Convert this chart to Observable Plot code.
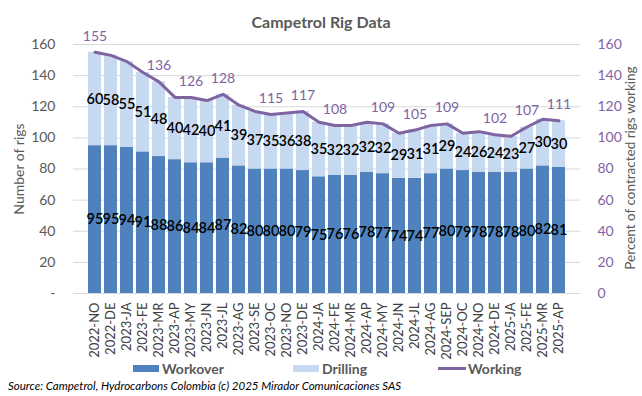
<!DOCTYPE html>
<html>
<head>
<meta charset="utf-8">
<script src="https://cdn.jsdelivr.net/npm/d3@7"></script>
<script src="https://cdn.jsdelivr.net/npm/@observablehq/plot@0.6"></script>
<style>
  body { margin: 0; background: #fff; font-family: Lato, "Open Sans", sans-serif; }
  #wrap { position: relative; width: 642px; height: 396px; overflow: hidden; background: #fff; }
  #chart { position: absolute; left: 0; top: 0; }
  .title { position: absolute; top: 12px; left: 0; width: 642px; text-align: center; font-weight: 700; font-size: 16px; color: #595959; }
  .rot { position: absolute; white-space: nowrap; transform: translate(-50%, -50%) rotate(-90deg); color: #595959; }
  .legend { position: absolute; top: 360px; left: 0; font-size: 14px; font-weight: 700; color: #595959; }
  .legend .item { position: absolute; white-space: nowrap; display: flex; align-items: center; top: 0; }
  .legend .sw { display: inline-block; width: 26px; height: 7px; margin-right: 3px; }
  .legend .ln { display: inline-block; width: 28px; height: 3px; margin-right: 2px; }
  .caption { position: absolute; top: 379px; left: 8px; font-size: 11.5px; font-style: italic; color: #000; white-space: nowrap; }
</style>
</head>
<body>
<div id="wrap">
  <div id="chart"></div>
  <div class="title">Campetrol Rig Data</div>
  <div class="rot" style="left:18px; top:169px; font-size:14px;">Number of rigs</div>
  <div class="rot" style="left:630px; top:168px; font-size:13.5px;">Percent of contracted rigs working</div>
  <div class="legend">
    <div class="item" style="left:133px;"><span class="sw" style="background:#4f81bd"></span>Workover</div>
    <div class="item" style="left:293px;"><span class="sw" style="background:#c6d9f1"></span>Drilling</div>
    <div class="item" style="left:438px;"><span class="ln" style="background:#8064a2"></span>Working</div>
  </div>
  <div class="caption">Source: Campetrol, Hydrocarbons Colombia (c) 2025 Mirador Comunicaciones SAS</div>
</div>
<script>
const months = ["2022-NO","2022-DE","2023-JA","2023-FE","2023-MR","2023-AP","2023-MY","2023-JN","2023-JL","2023-AG",
  "2023-SE","2023-OC","2023-NO","2023-DE","2024-JA","2024-FE","2024-MR","2024-AP","2024-MY","2024-JN",
  "2024-JL","2024-AG","2024-SEP","2024-OC","2024-NO","2024-DE","2025-JA","2025-FE","2025-MR","2025-AP"];
const workover = [95,95,94,91,88,86,84,84,87,82,80,80,80,79,75,76,76,78,77,74,74,77,80,79,78,78,78,80,82,81];
const drilling = [60,58,55,51,48,40,42,40,41,39,37,35,36,38,35,32,32,32,32,29,31,31,29,24,26,24,23,27,30,30];
const working = [155,153,149,142,136,126,126,124,128,121,117,115,116,117,110,108,108,110,109,103,105,108,109,103,104,102,101,107,112,111];
const workingLabelIdx = [0,4,6,8,11,13,15,18,20,22,25,27,29];
const yTicks = [0,20,40,60,80,100,120,140,160];
const seriesNames = ["Workover","Drilling"];
const seriesColors = ["#4f81bd","#c6d9f1"];
const lineColor = "#8064a2";

const stacked = [];
months.forEach((m, i) => {
  stacked.push({month: m, type: "Workover", value: workover[i]});
  stacked.push({month: m, type: "Drilling", value: drilling[i]});
});
const lineData = months.map((m, i) => ({month: m, value: working[i], i}));
const lineLabels = lineData.filter(d => workingLabelIdx.includes(d.i));

const plot = Plot.plot({
  width: 642,
  height: 396,
  marginTop: 44,
  marginBottom: 103,
  marginLeft: 73,
  marginRight: 62,
  style: {fontFamily: "Lato, 'Open Sans', sans-serif", background: "transparent"},
  x: {domain: months, padding: 0.2, label: null},
  y: {domain: [0, 160], label: null},
  color: {domain: seriesNames, range: seriesColors},
  marks: [
    Plot.gridY(yTicks, {stroke: "#d9d9d9", strokeOpacity: 1, strokeWidth: 1}),
    Plot.barY(stacked, Plot.stackY({x: "month", y: "value", fill: "type", order: null})),
    Plot.text(stacked, Plot.stackY({x: "month", y: "value", text: "value", order: null, fill: "#000",
      fontSize: 14.5, fontWeight: 600, letterSpacing: -0.4})),
    Plot.line(lineData, {x: "month", y: "value", stroke: lineColor, strokeWidth: 3, strokeLinejoin: "round"}),
    Plot.text(lineLabels, {x: "month", y: "value", text: "value", dy: -16, fill: lineColor, fontSize: 14}),
    Plot.axisY({ticks: yTicks, anchor: "left", tickSize: 0, tickPadding: 18, fontSize: 14, fill: "#595959", label: null,
      tickFormat: d => d === 0 ? "-" : d}),
    Plot.axisY({ticks: yTicks, anchor: "right", tickSize: 0, tickPadding: 17, fontSize: 14, fill: "#7f64a6", label: null}),
    Plot.axisX({tickRotate: -90, tickSize: 0, tickPadding: 9, fontSize: 13, fill: "#404040", label: null}),
    Plot.ruleY([0], {stroke: "#d9d9d9"})
  ]
});
document.getElementById("chart").appendChild(plot);
</script>
</body>
</html>
